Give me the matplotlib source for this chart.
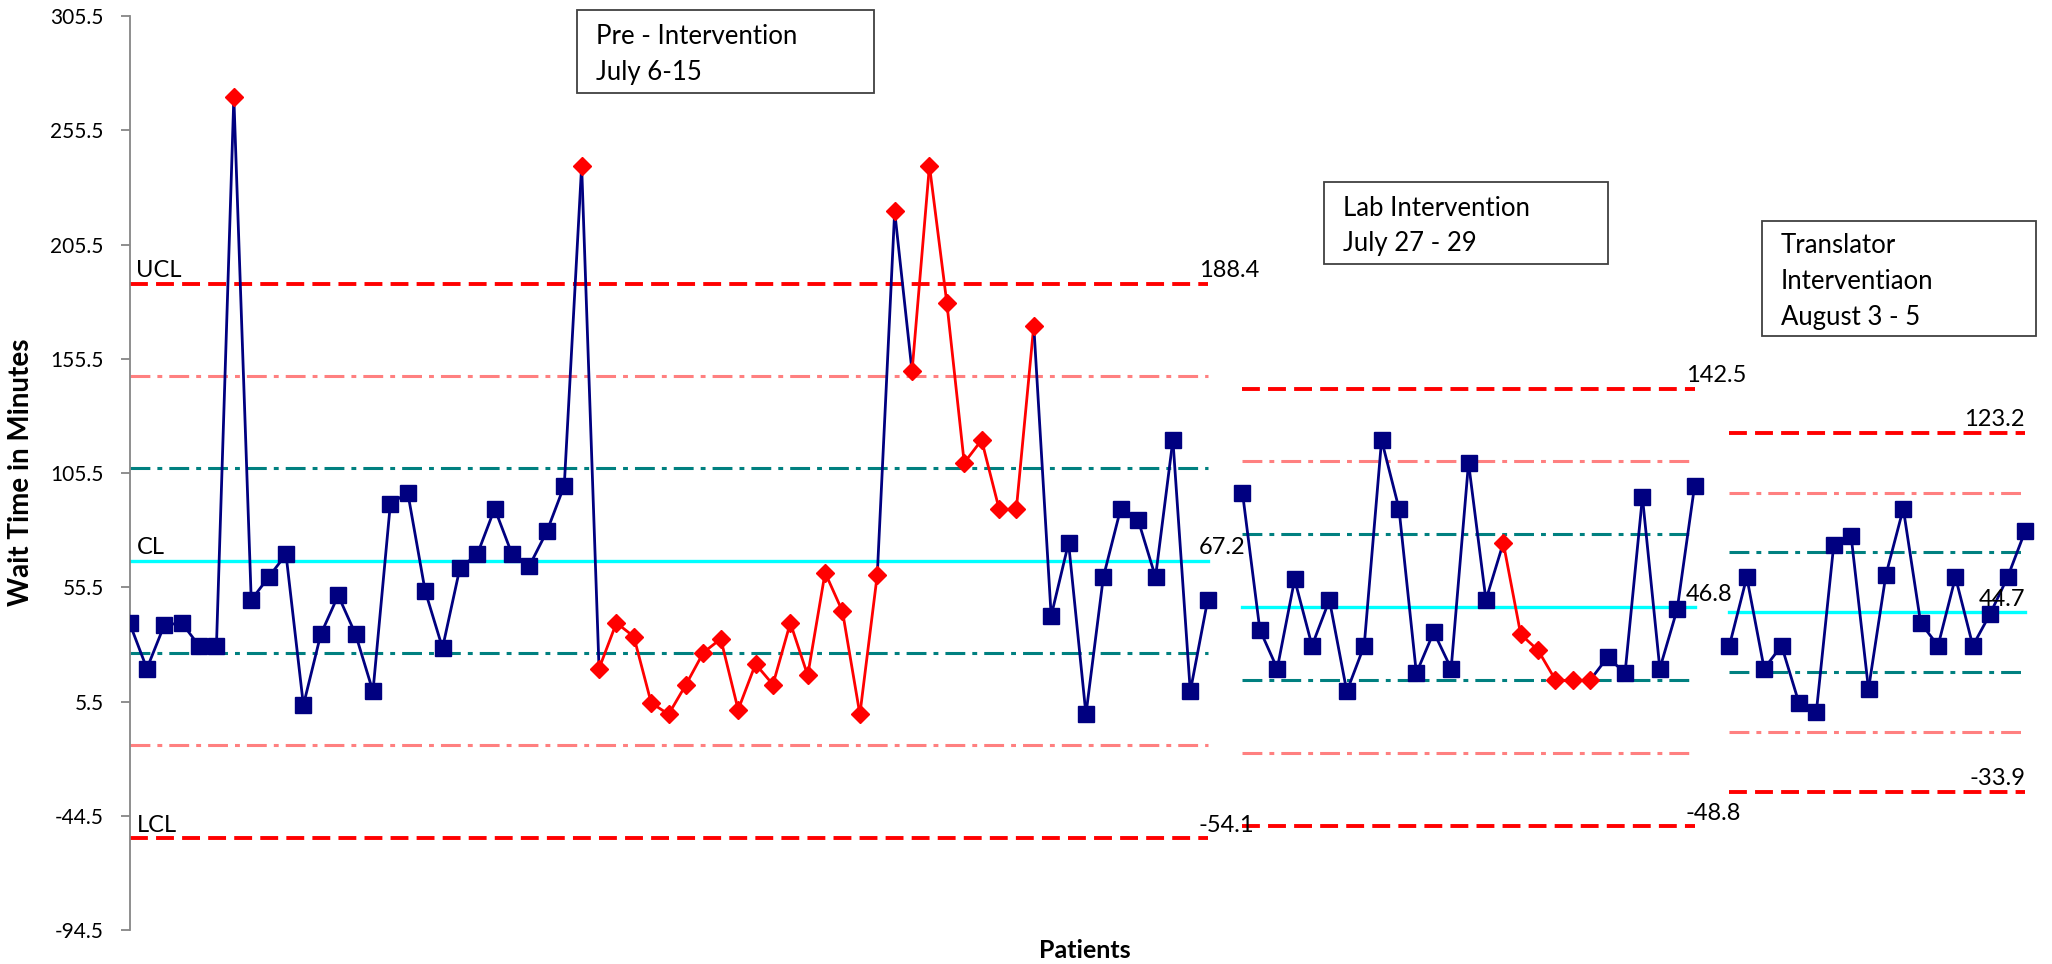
import numpy as np
import matplotlib
matplotlib.use("Agg")
import matplotlib.pyplot as plt
from matplotlib.patches import Rectangle

plt.rcParams['font.family'] = ['Lato', 'DejaVu Sans']

# wait times (minutes) for each phase
pre_wait = [40, 20, 39, 40, 30, 30, 270, 50, 60, 70, 4, 35, 52, 35, 10, 92, 97, 54, 29, 64,
            70, 90, 70, 65, 80, 100, 240, 20, 40, 34, 5, 0, 13, 27, 33, 2, 22, 13, 40, 17,
            62, 45, 0, 61, 220, 150, 240, 180, 110, 120, 90, 90, 170, 43, 75, 0, 60, 90, 85, 60,
            120, 10, 50]
lab_wait = [97, 37, 20, 59, 30, 50, 10, 30, 120, 90, 18, 36, 20, 110, 50, 75, 35, 28, 15, 15,
            15, 25, 18, 95, 20, 46, 100]
trans_wait = [30, 60, 20, 30, 5, 1, 74, 78, 11, 61, 90, 40, 30, 60, 30, 44, 60, 80]

# flagged points (1-based) and runs drawn with red line
pre_flagged = [7] + list(range(27, 54))
lab_flagged = list(range(16, 22))
trans_flagged = []
pre_runs = [(28, 44), (46, 53)]
lab_runs = [(16, 21)]
trans_runs = []

# control limits: (UCL, CL, LCL)
pre_limits = (188.4, 67.2, -54.1)
lab_limits = (142.5, 46.8, -48.8)
trans_limits = (123.2, 44.7, -33.9)

box_texts = ["Pre - Intervention\nJuly 6-15",
             "Lab Intervention\nJuly 27 - 29",
             "Translator\nInterventiaon\nAugust 3 - 5"]

yticks = np.arange(-94.5, 305.6, 50)

NAVY = "#000080"
RED = "#FF0000"

fig = plt.figure(figsize=(20.52, 9.64), dpi=100)
ax = fig.add_axes([129.5 / 2052, 1 - 930.3 / 964, (2042.4 - 129.5) / 2052, (930.3 - 16) / 964])

segments = [
    (pre_wait, pre_flagged, pre_runs, pre_limits, 0),
    (lab_wait, lab_flagged, lab_runs, lab_limits, len(pre_wait) + 1),
    (trans_wait, trans_flagged, trans_runs, trans_limits, len(pre_wait) + len(lab_wait) + 2),
]

for k, (vals, flagged, runs, limits, start) in enumerate(segments):
    x = start + np.arange(len(vals))
    ucl, cl, lcl = limits
    sig = (ucl - cl) / 3.0
    x0, x1 = x[0], x[-1]
    # zone lines
    ax.plot([x0, x1], [cl + 2 * sig] * 2, color="#FF8080", lw=2.2, dashes=(6.5, 2.3, 1.6, 2.3), zorder=1)
    ax.plot([x0, x1], [cl - 2 * sig] * 2, color="#FF8080", lw=2.2, dashes=(6.5, 2.3, 1.6, 2.3), zorder=1)
    ax.plot([x0, x1], [cl + sig] * 2, color="#008080", lw=2.2, dashes=(6.5, 2.3, 1.6, 2.3), zorder=1)
    ax.plot([x0, x1], [cl - sig] * 2, color="#008080", lw=2.2, dashes=(6.5, 2.3, 1.6, 2.3), zorder=1)
    ax.plot([x0, x1], [ucl] * 2, color=RED, lw=2.8, dashes=(4.6, 2.1), zorder=1)
    ax.plot([x0, x1], [lcl] * 2, color=RED, lw=2.8, dashes=(4.6, 2.1), zorder=1)
    ax.plot([x0, x1], [cl] * 2, color="#00FFFF", lw=2.4, zorder=1)

    # connecting lines
    red_pairs = set()
    for a, b in runs:
        for i in range(a, b):
            red_pairs.add(i)
    for i in range(1, len(vals)):
        c = RED if i in red_pairs else NAVY
        ax.plot(x[i - 1:i + 1], vals[i - 1:i + 1], color=c, lw=2.0, zorder=2)
    # markers
    for i, v in enumerate(vals):
        if (i + 1) in flagged:
            ax.plot(x[i], v, marker="D", color=RED, ms=9.5, mec=RED, zorder=3)
        else:
            ax.plot(x[i], v, marker="s", color=NAVY, ms=12, mec=NAVY, zorder=3)

    # limit value labels
    if k < 2:
        lx, ha = x1 - 0.5, "left"
    else:
        lx, ha = x1, "right"
    for val in (ucl, cl, lcl):
        ax.text(lx, val + 1, f"{val:.1f}", ha=ha, va="bottom", fontsize=17)

ax.text(0.4, pre_limits[0] + 1, "UCL", ha="left", va="bottom", fontsize=17)
ax.text(0.4, pre_limits[1] + 1, "CL", ha="left", va="bottom", fontsize=17)
ax.text(0.4, pre_limits[2] + 1, "LCL", ha="left", va="bottom", fontsize=17)

ax.set_xlim(0, 110)
ax.set_ylim(-94.5, 305.5)
ax.set_yticks(yticks)
ax.set_yticklabels([f"{t:.1f}" for t in yticks], fontsize=15)
ax.set_xticks([])
for s in ["top", "right", "bottom"]:
    ax.spines[s].set_visible(False)
ax.spines["left"].set_color("#868686")
ax.spines["left"].set_linewidth(1.3)
ax.tick_params(axis="y", direction="out", length=6.5, width=1.3, color="#868686", pad=12)

ax.set_ylabel("Wait Time in Minutes", fontsize=20, fontweight="bold", va="center")
ax.yaxis.set_label_coords(-0.0567, 0.501)
ax.set_xlabel("Patients", fontsize=18, fontweight="bold", va="center")
ax.xaxis.set_label_coords(0.4995, -0.0225)

# annotation boxes (pixel positions in figure)
boxes = [(577, 10, 874, 93), (1324, 182, 1608, 264), (1762, 221, 2036, 336)]
for (l, t, r, b), txt in zip(boxes, box_texts):
    fig.add_artist(Rectangle((l / 2052, 1 - b / 964), (r - l) / 2052, (b - t) / 964,
                             transform=fig.transFigure, fill=True, facecolor="white",
                             edgecolor="#404040", lw=1.3, zorder=5))
    fig.text((l + 19) / 2052, 1 - (t + (b - t) / 2 + 3) / 964, txt, ha="left", va="center",
             fontsize=18.5, linespacing=1.55, zorder=6)

fig.savefig("out.png", dpi=100)
